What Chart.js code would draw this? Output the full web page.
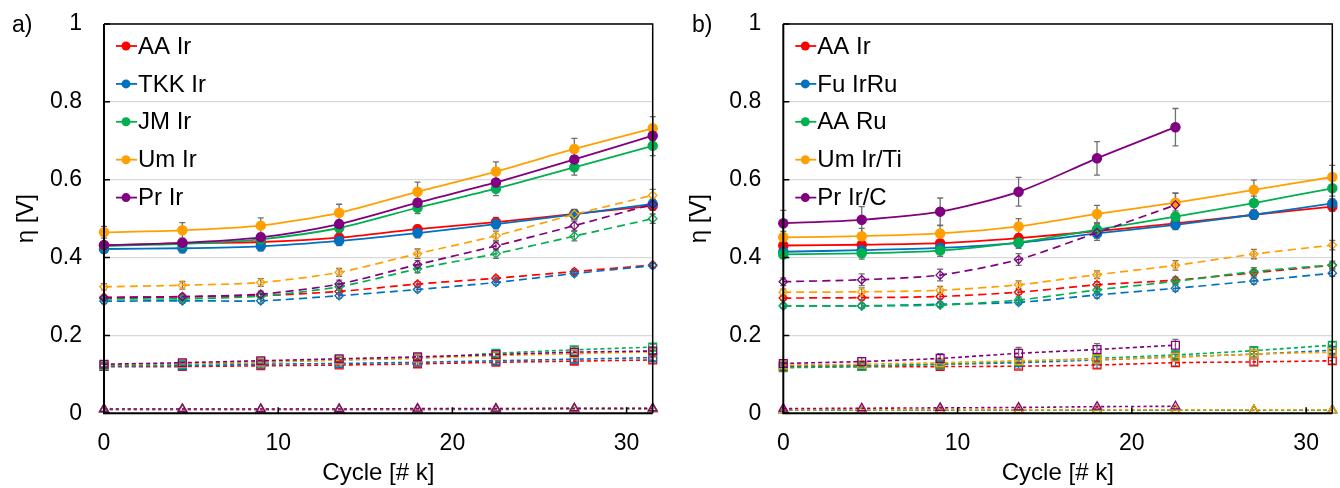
<!DOCTYPE html>
<html>
<head>
<meta charset="utf-8">
<script src="https://cdn.jsdelivr.net/npm/chart.js@4.4.1/dist/chart.umd.min.js"></script>
<style>
  body { margin: 0; background: #fff; }
  .panel { position: absolute; top: 0; width: 670px; height: 488px; }
</style>
</head>
<body>
<div class="panel" style="left:0"><canvas id="chartA" width="670" height="488"></canvas></div>
<div class="panel" style="left:670px"><canvas id="chartB" width="670" height="488"></canvas></div>
<script>
// cycle number in thousands
const cycles = [0, 4.5, 9, 13.5, 18, 22.5, 27, 31.5];
const xTicks = [0, 10, 20, 30];
const colors = ['#FF0000', '#0070C0', '#00B050', '#FFA000', '#800080'];

// a) Ir catalysts
const aLabels = ['AA Ir', 'TKK Ir', 'JM Ir', 'Um Ir', 'Pr Ir'];
const aTotal = [
  [0.431, 0.437, 0.440, 0.451, 0.473, 0.491, 0.512, 0.533],
  [0.422, 0.424, 0.429, 0.443, 0.463, 0.486, 0.511, 0.538],
  [0.430, 0.435, 0.447, 0.476, 0.528, 0.577, 0.632, 0.687],
  [0.465, 0.470, 0.482, 0.515, 0.569, 0.621, 0.679, 0.732],
  [0.432, 0.438, 0.452, 0.486, 0.541, 0.593, 0.652, 0.713]
];
const aTotalErr = [
  [0.008, 0.008, 0.008, 0.010, 0.010, 0.012, 0.012, 0.012],
  [0.010, 0.012, 0.012, 0.012, 0.012, 0.012, 0.012, 0.012],
  [0.008, 0.010, 0.010, 0.012, 0.015, 0.018, 0.020, 0.025],
  [0.015, 0.020, 0.020, 0.022, 0.025, 0.025, 0.027, 0.030],
  [0.008, 0.008, 0.010, 0.010, 0.010, 0.010, 0.010, 0.012]
];
const aKinetic = [
  [0.298, 0.299, 0.302, 0.313, 0.332, 0.347, 0.364, 0.381],
  [0.288, 0.289, 0.289, 0.302, 0.318, 0.336, 0.359, 0.379],
  [0.294, 0.294, 0.301, 0.325, 0.371, 0.410, 0.455, 0.500],
  [0.325, 0.329, 0.336, 0.362, 0.410, 0.456, 0.511, 0.560],
  [0.297, 0.300, 0.306, 0.332, 0.382, 0.430, 0.482, 0.537]
];
const aKineticErr = [
  [0.005, 0.005, 0.005, 0.005, 0.006, 0.006, 0.006, 0.006],
  [0.006, 0.006, 0.006, 0.006, 0.006, 0.006, 0.006, 0.006],
  [0.005, 0.005, 0.006, 0.008, 0.010, 0.012, 0.012, 0.012],
  [0.008, 0.010, 0.010, 0.010, 0.012, 0.012, 0.012, 0.015],
  [0.005, 0.006, 0.008, 0.010, 0.010, 0.010, 0.012, 0.012]
];
const aOhmic = [
  [0.120, 0.120, 0.122, 0.124, 0.127, 0.131, 0.134, 0.137],
  [0.121, 0.122, 0.126, 0.128, 0.131, 0.135, 0.139, 0.143],
  [0.123, 0.126, 0.131, 0.137, 0.142, 0.154, 0.163, 0.170],
  [0.125, 0.128, 0.132, 0.137, 0.142, 0.148, 0.153, 0.158],
  [0.126, 0.130, 0.135, 0.140, 0.145, 0.151, 0.157, 0.160]
];
const aOhmicErr = [
  [0.006, 0.006, 0.007, 0.007, 0.008, 0.008, 0.008, 0.008],
  [0.006, 0.006, 0.007, 0.007, 0.008, 0.008, 0.008, 0.008],
  [0.006, 0.006, 0.007, 0.007, 0.008, 0.008, 0.008, 0.008],
  [0.006, 0.006, 0.007, 0.007, 0.008, 0.008, 0.008, 0.008],
  [0.006, 0.006, 0.007, 0.007, 0.008, 0.008, 0.008, 0.008]
];
const aTransport = [
  [0.010, 0.010, 0.010, 0.010, 0.010, 0.011, 0.011, 0.011],
  [0.010, 0.010, 0.010, 0.010, 0.010, 0.010, 0.011, 0.011],
  [0.011, 0.011, 0.011, 0.011, 0.011, 0.011, 0.012, 0.012],
  [0.011, 0.011, 0.011, 0.011, 0.011, 0.012, 0.012, 0.012],
  [0.011, 0.011, 0.011, 0.011, 0.012, 0.012, 0.013, 0.013]
];

// b) other catalysts
const bLabels = ['AA Ir', 'Fu IrRu', 'AA Ru', 'Um Ir/Ti', 'Pr Ir/C'];
const bTotal = [
  [0.431, 0.433, 0.437, 0.450, 0.468, 0.488, 0.510, 0.531],
  [0.415, 0.419, 0.425, 0.438, 0.462, 0.484, 0.510, 0.539],
  [0.408, 0.411, 0.418, 0.439, 0.472, 0.505, 0.540, 0.578],
  [0.452, 0.455, 0.462, 0.480, 0.512, 0.541, 0.574, 0.607],
  [0.488, 0.497, 0.518, 0.569, 0.655, 0.735, null, null]
];
const bTotalErr = [
  [0.008, 0.008, 0.008, 0.010, 0.010, 0.010, 0.012, 0.012],
  [0.010, 0.010, 0.010, 0.010, 0.012, 0.012, 0.012, 0.012],
  [0.010, 0.015, 0.015, 0.015, 0.015, 0.015, 0.018, 0.020],
  [0.015, 0.020, 0.020, 0.020, 0.022, 0.025, 0.025, 0.030],
  [0.033, 0.034, 0.035, 0.037, 0.043, 0.048, null, null]
];
const bKinetic = [
  [0.296, 0.297, 0.300, 0.311, 0.330, 0.342, 0.361, 0.380],
  [0.276, 0.276, 0.280, 0.285, 0.304, 0.321, 0.340, 0.360],
  [0.276, 0.276, 0.278, 0.291, 0.317, 0.339, 0.364, 0.381],
  [0.311, 0.312, 0.316, 0.330, 0.356, 0.380, 0.409, 0.432],
  [0.338, 0.343, 0.355, 0.395, 0.464, 0.535, null, null]
];
const bKineticErr = [
  [0.006, 0.006, 0.006, 0.006, 0.008, 0.008, 0.008, 0.008],
  [0.006, 0.006, 0.006, 0.006, 0.008, 0.008, 0.008, 0.008],
  [0.006, 0.006, 0.006, 0.008, 0.008, 0.008, 0.010, 0.010],
  [0.008, 0.010, 0.010, 0.010, 0.010, 0.012, 0.012, 0.012],
  [0.010, 0.015, 0.015, 0.015, 0.020, 0.030, null, null]
];
const bOhmic = [
  [0.120, 0.120, 0.120, 0.121, 0.124, 0.130, 0.132, 0.135],
  [0.122, 0.123, 0.126, 0.130, 0.137, 0.145, 0.152, 0.162],
  [0.117, 0.120, 0.126, 0.133, 0.141, 0.150, 0.161, 0.175],
  [0.124, 0.126, 0.130, 0.135, 0.139, 0.144, 0.152, 0.157],
  [0.128, 0.133, 0.141, 0.154, 0.164, 0.175, null, null]
];
const bOhmicErr = [
  [0.006, 0.006, 0.007, 0.007, 0.008, 0.008, 0.008, 0.008],
  [0.006, 0.006, 0.007, 0.007, 0.008, 0.008, 0.008, 0.008],
  [0.006, 0.006, 0.007, 0.007, 0.008, 0.008, 0.008, 0.008],
  [0.006, 0.006, 0.007, 0.007, 0.008, 0.008, 0.008, 0.008],
  [0.006, 0.010, 0.012, 0.015, 0.015, 0.015, null, null]
];
const bTransport = [
  [0.008, 0.008, 0.008, 0.008, 0.008, 0.008, 0.008, 0.008],
  [0.008, 0.008, 0.008, 0.008, 0.008, 0.008, 0.008, 0.008],
  [0.008, 0.008, 0.008, 0.008, 0.008, 0.008, 0.008, 0.008],
  [0.009, 0.009, 0.009, 0.009, 0.009, 0.009, 0.009, 0.009],
  [0.012, 0.013, 0.014, 0.015, 0.017, 0.018, null, null]
];

const FONT = '"Liberation Sans", Arial, sans-serif';

// gray error bars with caps, under the series
const errorBars = {
  id: 'errorBars',
  beforeDatasetsDraw(chart) {
    const { ctx } = chart;
    const y = chart.scales.y;
    ctx.save();
    ctx.strokeStyle = '#6f6f6f';
    ctx.lineWidth = 1.3;
    chart.data.datasets.forEach((ds, i) => {
      if (!ds.errors) return;
      chart.getDatasetMeta(i).data.forEach((pt, j) => {
        const v = ds.data[j] ? ds.data[j].y : null;
        const e = ds.errors[j];
        if (v == null || e == null) return;
        const top = y.getPixelForValue(v + e), bot = y.getPixelForValue(v - e);
        ctx.beginPath();
        ctx.moveTo(pt.x, top); ctx.lineTo(pt.x, bot);
        ctx.moveTo(pt.x - 3, top); ctx.lineTo(pt.x + 3, top);
        ctx.moveTo(pt.x - 3, bot); ctx.lineTo(pt.x + 3, bot);
        ctx.stroke();
      });
    });
    ctx.restore();
  }
};

// plot frame with inward tick marks, legend inside the plot and the panel tag
const frame = {
  id: 'frame',
  afterDraw(chart, args, opts) {
    const { ctx, chartArea: a, scales } = chart;
    ctx.save();
    ctx.strokeStyle = '#000';
    ctx.lineWidth = 1.5;
    ctx.beginPath();
    ctx.moveTo(a.left, a.top); ctx.lineTo(a.right, a.top); ctx.lineTo(a.right, a.bottom);
    ctx.stroke();
    ctx.lineWidth = 2;
    ctx.beginPath();
    ctx.moveTo(a.left, a.top); ctx.lineTo(a.left, a.bottom); ctx.lineTo(a.right, a.bottom);
    ctx.stroke();
    ctx.lineWidth = 1.5;
    ctx.beginPath();
    scales.y.ticks.forEach(t => {
      const py = scales.y.getPixelForValue(t.value);
      ctx.moveTo(a.left, py); ctx.lineTo(a.left + 6, py);
    });
    scales.x.ticks.forEach(t => {
      const px = scales.x.getPixelForValue(t.value);
      ctx.moveTo(px, a.bottom); ctx.lineTo(px, a.bottom - 6);
    });
    ctx.stroke();

    // legend
    ctx.font = '24px ' + FONT;
    ctx.textBaseline = 'middle';
    chart.data.datasets.filter(ds => ds.inLegend).forEach((ds, k) => {
      const ly = a.top + 22 + k * 37.9;
      ctx.strokeStyle = ds.borderColor;
      ctx.lineWidth = 1.8;
      ctx.beginPath(); ctx.moveTo(a.left + 12, ly); ctx.lineTo(a.left + 33, ly); ctx.stroke();
      ctx.fillStyle = ds.borderColor;
      ctx.beginPath(); ctx.arc(a.left + 22, ly, 4.5, 0, Math.PI * 2); ctx.fill();
      ctx.fillStyle = '#000';
      ctx.fillText(ds.label, a.left + 34, ly + 1);
    });

    // panel tag
    ctx.font = '23px ' + FONT;
    ctx.fillText(opts.tag, opts.tagX, a.top + 2);
    ctx.restore();
  }
};

function seriesSets(labels, values, errors, style) {
  return labels.map((label, m) => ({
    label: label,
    data: values[m],
    errors: errors ? errors[m] : null,
    inLegend: style.inLegend,
    borderColor: colors[m],
    backgroundColor: style.filled ? colors[m] : 'rgba(255,255,255,0)',
    borderWidth: style.width,
    borderDash: style.dash,
    pointStyle: style.point,
    pointRadius: style.radius,
    pointBorderWidth: 1.3,
    pointHoverRadius: style.radius,
    tension: 0.25,
    spanGaps: false,
    clip: false,
    order: labels.length - 1 - m
  }));
}

// keep the plot box fixed: no extra room for half tick labels
function noScalePadding(s) {
  s.paddingTop = 0; s.paddingBottom = 0; s.paddingLeft = 0; s.paddingRight = 0;
}

function makePanel(id, opt) {
  const datasets = [
    ...seriesSets(opt.labels, opt.transport, null, { point: 'triangle', radius: 5, dash: [3, 3], width: 1.6 }),
    ...seriesSets(opt.labels, opt.ohmic, opt.ohmicErr, { point: 'rect', radius: 5.5, dash: [4, 3], width: 1.6 }),
    ...seriesSets(opt.labels, opt.kinetic, opt.kineticErr, { point: 'rectRot', radius: 4.2, dash: [8, 5], width: 1.7 }),
    ...seriesSets(opt.labels, opt.total, opt.totalErr, { point: 'circle', radius: 4.6, dash: [], width: 1.8, filled: true, inLegend: true })
  ];
  return new Chart(document.getElementById(id), {
    type: 'line',
    data: {
      datasets: datasets.map(ds => ({
        ...ds,
        data: ds.data.map((v, j) => ({ x: cycles[j], y: v }))
      }))
    },
    plugins: [errorBars, frame],
    options: {
      responsive: false,
      animation: false,
      devicePixelRatio: 1,
      layout: { padding: { top: 24, right: opt.padRight, left: 0, bottom: 0 } },
      plugins: {
        legend: { display: false },
        tooltip: { enabled: false },
        frame: { tag: opt.tag, tagX: opt.tagX }
      },
      scales: {
        x: {
          type: 'linear',
          min: 0,
          max: 31.5,
          afterBuildTicks: s => { s.ticks = xTicks.map(v => ({ value: v })); },
          afterFit: s => { s.height = 74.7; noScalePadding(s); },
          grid: { display: false, drawTicks: false },
          border: { display: false },
          ticks: { padding: 17, color: '#000', font: { family: FONT, size: 23 } },
          title: { display: true, text: 'Cycle [# k]', color: '#000', padding: { top: 0, bottom: 0 }, font: { family: FONT, size: 24 } }
        },
        y: {
          min: 0,
          max: 1,
          afterFit: s => { s.width = opt.plotLeft; noScalePadding(s); },
          grid: { color: '#D9D9D9', lineWidth: 1.3, drawTicks: false },
          border: { display: false },
          ticks: {
            stepSize: 0.2, padding: 22, color: '#000', font: { family: FONT, size: 23 },
            callback: v => String(+v.toFixed(1))
          },
          title: { display: true, text: 'η [V]', color: '#000', padding: { top: opt.yTitlePad, bottom: 0 }, font: { family: FONT, size: 24 } }
        }
      }
    }
  });
}

makePanel('chartA', {
  tag: 'a)', tagX: 12, plotLeft: 104, padRight: 17.3, yTitlePad: 12,
  labels: aLabels,
  total: aTotal, totalErr: aTotalErr,
  kinetic: aKinetic, kineticErr: aKineticErr,
  ohmic: aOhmic, ohmicErr: aOhmicErr,
  transport: aTransport
});

makePanel('chartB', {
  tag: 'b)', tagX: 22, plotLeft: 113.3, padRight: 7.7, yTitlePad: 15,
  labels: bLabels,
  total: bTotal, totalErr: bTotalErr,
  kinetic: bKinetic, kineticErr: bKineticErr,
  ohmic: bOhmic, ohmicErr: bOhmicErr,
  transport: bTransport
});
</script>
</body>
</html>
